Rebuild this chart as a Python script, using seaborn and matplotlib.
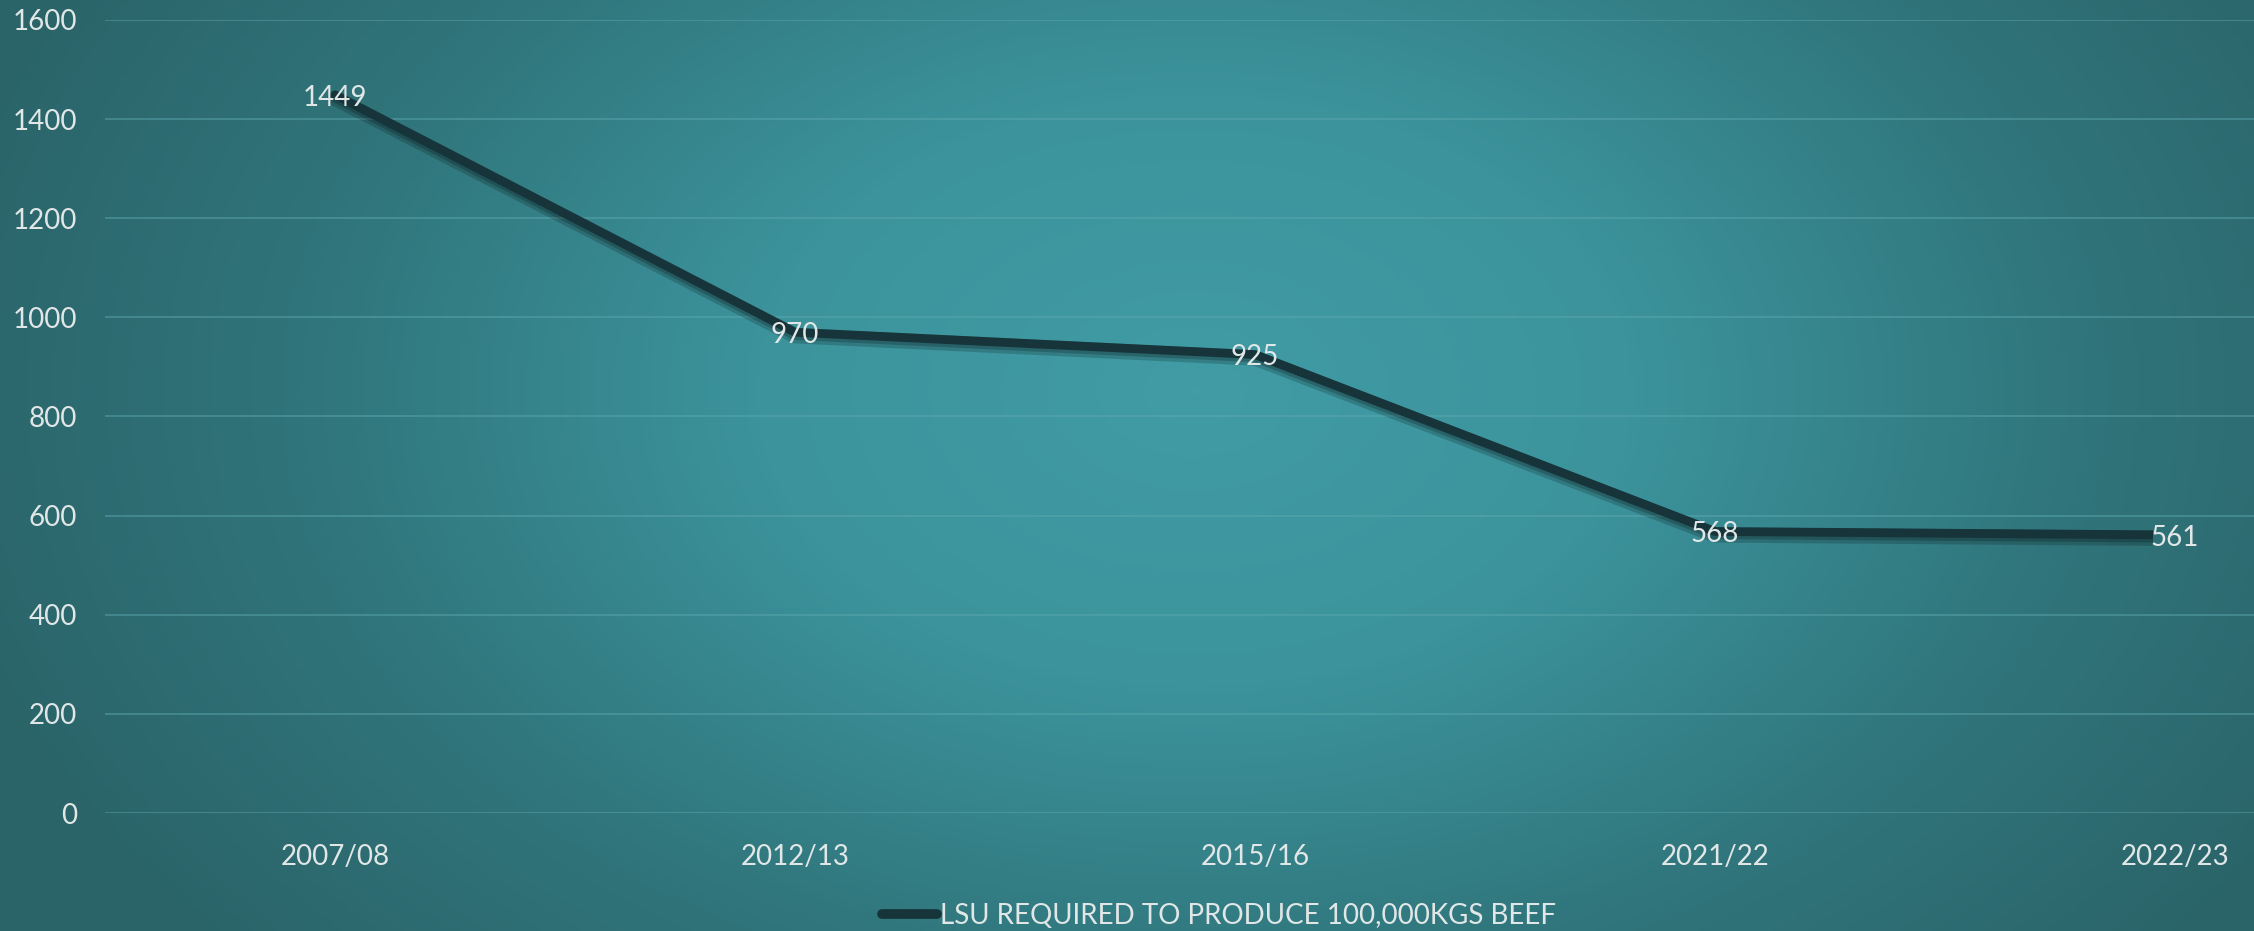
import numpy as np
import pandas as pd
import seaborn as sns
import matplotlib.pyplot as plt
import matplotlib.patheffects as pe
from matplotlib.colors import LinearSegmentedColormap
from matplotlib.patches import Rectangle

# data
years = ["2007/08", "2012/13", "2015/16", "2021/22", "2022/23"]
lsu = [1449, 970, 925, 568, 561]
series_name = "LSU REQUIRED TO PRODUCE 100,000KGS BEEF"
y_ticks = [0, 200, 400, 600, 800, 1000, 1200, 1400, 1600]

df = pd.DataFrame({"year": years, "lsu": lsu, "series": series_name})

sns.set_theme(style="white")
plt.rcParams['font.family'] = ['Lato', 'DejaVu Sans']
txt_color = "#e1e7e7"
line_color = "#163439"
fs = 20

W, H = 2254, 931
fig = plt.figure(figsize=(W / 100, H / 100), dpi=100)

# radial background gradient
bg = fig.add_axes([0, 0, 1, 1], zorder=-5)
xx, yy = np.meshgrid(np.linspace(0, 1, 600), np.linspace(0, 1, 250))
r = np.sqrt(((xx - 0.53) / 0.58) ** 2 + ((yy - 0.42) / 0.95) ** 2)
r = np.clip(r, 0, 1)
cmap = LinearSegmentedColormap.from_list("bg", ["#419ca5", "#3c939c", "#30767c", "#2a6368"])
bg.imshow(r, cmap=cmap, aspect="auto", extent=[0, 1, 0, 1], origin="upper", vmin=0, vmax=1)
bg.axis("off")

left = 105 / W
bottom = (H - 813) / H
top = (H - 20) / H
ax = fig.add_axes([left, bottom, 1 - left, top - bottom])
ax.set_facecolor("none")

sns.lineplot(data=df, x="year", y="lsu", hue="series", palette=[line_color],
             linewidth=6.3, ax=ax, sort=False, legend=True)

# excel clips the series at the plot edge, soft shadow under it
clip = Rectangle((0, 0), (2153 - 105) / (W - 105), 1, transform=ax.transAxes)
for ln in ax.lines:
    ln.set_clip_path(clip)
    ln.set_path_effects([pe.SimpleLineShadow(offset=(0, -2.5), shadow_color="black", alpha=0.18, linewidth=11),
                         pe.SimpleLineShadow(offset=(0, -1.5), shadow_color="black", alpha=0.2, linewidth=8),
                         pe.Normal()])

for i, v in enumerate(lsu):
    ax.annotate(str(v), (i, v), xytext=(0, -2), textcoords="offset points",
                ha="center", va="center", color=txt_color, fontsize=fs)

ax.set_xlim(-0.5, (W - 105) / 460 - 0.5)
ax.set_ylim(0, 1600)
ax.set_yticks(y_ticks)
ax.yaxis.grid(True, color="#5ea9b0", linewidth=1.3, alpha=0.5)
ax.xaxis.grid(False)
for s in ax.spines.values():
    s.set_visible(False)
ax.tick_params(axis="y", length=0, pad=20, labelsize=fs, labelcolor=txt_color)
ax.tick_params(axis="x", length=0, pad=22, labelsize=fs, labelcolor=txt_color)
ax.set_xlabel("")
ax.set_ylabel("")

ax.get_legend().remove()
handles, labels = ax.get_legend_handles_labels()
leg = fig.legend(handles, labels, loc="center", bbox_to_anchor=(1219 / W, 1 - 916 / H),
                 frameon=False, fontsize=fs, handlelength=2.0, handletextpad=0.1,
                 borderpad=0, labelcolor=txt_color)
for h in leg.legend_handles:
    h.set_path_effects([])
    h.set_linewidth(7)
    h.set_solid_capstyle("round")

fig.savefig("out.png", dpi=100)
